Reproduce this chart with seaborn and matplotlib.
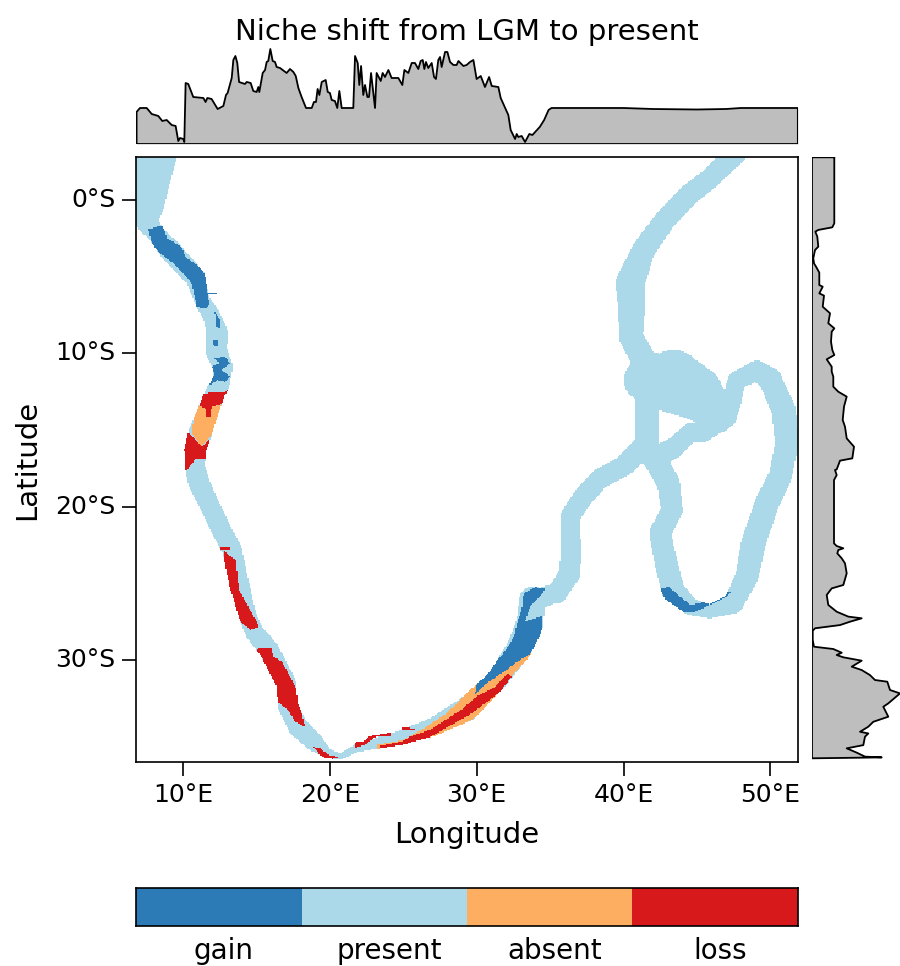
import numpy as np
import seaborn as sns
import matplotlib
matplotlib.use("Agg")
import matplotlib.pyplot as plt
from matplotlib.colors import ListedColormap
from matplotlib.path import Path

# ==============================
# 1. Data
# ==============================
class_names = ["gain", "present", "absent", "loss"]
class_colors = ["#2C7BB6", "#ABD9E9", "#FDAE61", "#D7191C"]

lon_ticks = [10, 20, 30, 40, 50]
lat_ticks = [0, -10, -20, -30]

# top margin: share of cells per longitude
top_lon = [6.84, 6.84, 7.07, 7.53, 7.87, 8.32, 8.59, 8.89, 9.23, 9.50, 9.68, 9.80, 10.02, 10.09, 10.18, 10.36, 10.70,
           11.39, 11.54, 11.66, 11.95, 12.36, 12.75, 12.93, 13.04, 13.32, 13.43, 13.57, 13.70, 13.82, 14.22, 14.34,
           14.61, 14.79, 15.02, 15.13, 15.20, 15.43, 15.59, 15.70, 15.81, 15.95, 16.11, 16.27, 16.38, 16.61, 17.06,
           17.29, 17.52, 17.68, 17.86, 18.08, 18.38, 18.77, 18.92, 19.06, 19.17, 19.29, 19.45, 19.72, 19.86, 20.01,
           20.13, 20.35, 20.51, 20.65, 20.81, 21.60, 21.72, 21.90, 22.01, 22.13, 22.28, 22.40, 22.56, 22.67, 22.81,
           23.08, 23.19, 23.47, 23.60, 23.76, 23.99, 24.21, 24.67, 24.94, 25.08, 25.35, 25.58, 25.80, 26.03, 26.19,
           26.33, 26.44, 26.55, 26.71, 26.94, 27.10, 27.23, 27.39, 27.51, 27.62, 27.85, 28.01, 28.19, 28.42, 28.64,
           28.76, 29.10, 29.32, 29.55, 29.78, 30.00, 30.28, 30.57, 30.85, 31.03, 31.48, 31.64, 32.16, 32.32, 32.62,
           32.73, 32.84, 33.07, 33.30, 33.59, 33.80, 34.30, 34.60, 34.90, 35.10, 40.0, 42.0, 45.0, 47.0, 48.0, 51.88,
           51.88, 6.84]
top_val = [0, 32, 36, 36, 30, 28, 23, 24, 19, 18, 3, 6, 5, 2, 61, 60, 47,
           46, 42, 46, 45, 35, 38, 49, 51, 66, 84, 88, 81, 62, 60, 62,
           61, 53, 52, 57, 52, 71, 74, 82, 83, 95, 83, 82, 77, 76, 71,
           75, 72, 68, 56, 47, 36, 36, 42, 42, 55, 49, 62, 64, 52, 51,
           44, 43, 36, 53, 36, 36, 88, 81, 59, 78, 49, 59, 47, 47, 71,
           36, 71, 63, 71, 67, 74, 66, 66, 59, 74, 71, 81, 81, 75, 83,
           84, 75, 82, 76, 81, 67, 65, 84, 87, 77, 92, 92, 82, 79, 79,
           83, 78, 79, 82, 84, 65, 68, 57, 67, 58, 57, 46, 29, 14, 5,
           10, 7, 8, 2, 10, 9, 17, 24, 34, 36, 36, 35, 34.5, 35, 36, 36,
           0, 0]

# right margin: share of cells per latitude
right_lat = [2.78, -1.52, -1.78, -1.95, -2.06, -2.39, -3.04, -3.26, -3.80, -4.13, -4.34, -4.73, -5.54, -5.65, -6.08,
             -6.23, -6.95, -7.38, -8.03, -8.36, -8.58, -9.23, -9.77, -10.10, -10.38, -10.86, -11.18, -11.51, -12.16,
             -12.49, -12.81, -13.46, -14.33, -14.77, -15.53, -16.07, -16.83, -16.98, -17.55, -17.59, -17.92, -18.24,
             -22.37, -22.54, -22.69, -22.80, -23.02, -23.34, -23.67, -24.32, -25.08, -25.30, -25.73, -26.38, -26.82,
             -27.14, -27.25, -27.47, -27.69, -27.90, -28.06, -28.66, -29.10, -29.25, -29.49, -29.64, -29.79, -30.01,
             -30.40, -30.62, -30.95, -31.27, -31.38, -31.92, -32.14, -32.79, -33.01, -33.66, -33.99, -34.31, -34.64,
             -34.75, -34.96, -35.51, -35.72, -36.00, -36.26, -36.31, -36.37, 2.78, 2.78]
right_val = [22.3, 22.3, 20.3, 6.3, 3.3, 5.3, 6.3, 3, 1.3, 2, 4, 7.3, 7.3, 10.7, 7.3,
             12, 10.7, 18, 16.3, 22.3, 19.7, 19, 20.3, 22.3, 14.7, 19.7, 19.7, 21.3, 21.3,
             26.3, 34.7, 32, 30.7, 33, 34.7, 42, 40.3, 28, 24.7, 23, 24.7, 22,
             22, 24.7, 31.3, 26.3, 25.3, 29.7, 33, 34.7, 31.3, 19.7, 14.7, 16.3, 24.7,
             36.3, 49.7, 38, 28, 3, 0.7, 0.7, 2, 21.3, 29.7, 24.7, 31.3, 49.7,
             39.7, 49.7, 58, 63, 75.3, 78, 88, 76.3, 71.3, 76.3, 61.3, 56.3, 48,
             56.3, 53, 51.3, 34.7, 44.7, 53, 69.7, 0, 0, 22.3]

# occupied strips: centre line and half width, in degrees
coast_lon = [8.16, 7.89, 7.75, 7.55, 8.23, 9.11, 10.82, 11.29, 11.98, 12.32, 12.25, 12.72, 12.59, 12.18, 11.57, 11.16,
             10.82, 10.82, 11.09, 11.63, 12.72, 13.34, 13.81, 14.43, 14.90, 15.86, 17.02, 17.15, 17.83, 18.99, 19.81,
             20.69, 21.85, 24.78, 27.03, 29.35, 31.39, 32.96, 33.64, 33.77, 34.80]
coast_lat = [2.80, 0.65, -0.33, -1.43, -2.28, -3.26, -5.02, -6.51, -7.62, -8.66, -9.77, -10.88, -11.92, -12.57, -14.14,
             -15.18, -16.29, -17.39, -18.44, -19.54, -21.69, -22.80, -24.95, -27.17, -28.21, -29.32, -31.47, -33.03,
             -34.33, -35.37, -36.03, -36.29, -35.70, -35.05, -34.33, -33.16, -31.27, -29.12, -27.56, -26.06, -25.86]
coast_hw = [1.40, 1.07, 0.97, 0.73, 0.60, 0.73, 0.67, 0.53, 0.60, 0.73, 0.73, 0.67, 0.60, 0.67, 0.73, 0.80,
            0.73, 0.67, 0.73, 0.67, 0.67, 0.67, 0.67, 0.60, 0.63, 0.67, 0.67, 0.67, 0.67, 0.60, 0.33,
            0.20, 0.27, 0.47, 0.60, 0.80, 0.70, 0.87, 0.93, 0.87, 0.60]

north_lon = [48.17, 47.38, 45.90, 44.31, 42.83, 41.36, 40.45, 40.56, 40.50, 41.25, 41.59, 41.59]
north_lat = [3.47, 2.78, 1.41, 0.22, -1.30, -3.26, -5.43, -7.17, -8.90, -10.21, -11.94, -15.64]
north_hw = [0.71, 0.71, 0.67, 0.71, 0.71, 0.78, 1.00, 0.89, 0.82, 0.84, 0.78, 0.78]

west_lon = [41.59, 40.00, 38.41, 37.27, 36.36, 36.41, 36.36, 35.46, 34.32]
west_lat = [-15.85, -17.37, -18.13, -19.33, -20.63, -22.80, -24.32, -25.62, -25.84]
west_hw = [0.78, 0.67, 0.67, 0.67, 0.67, 0.71, 0.71, 0.67, 0.56]

loop_lon = [42.04, 43.06, 43.29, 42.49, 42.95, 43.36, 44.54, 45.90, 47.49, 48.40, 48.85, 49.76, 50.67, 51.12, 50.90,
            50.01, 49.08, 47.72, 47.38, 47.04, 45.45, 44.54, 43.40, 42.04]
loop_lat = [-16.72, -18.46, -20.20, -21.72, -23.89, -25.41, -26.49, -26.82, -26.28, -24.54, -22.37, -19.76, -18.02,
            -15.85, -13.68, -11.73, -11.12, -11.73, -13.03, -14.12, -15.09, -15.16, -16.18, -16.83]
loop_hw = [0.78, 0.78, 0.73, 0.73, 0.78, 0.78, 0.56, 0.44, 0.67, 0.78, 0.84, 0.82, 0.78, 0.80, 0.82,
           0.78, 0.67, 0.60, 0.67, 0.67, 0.67, 0.62, 0.67, 0.78]

lobe_lon = [41.36, 42.04, 43.40, 44.99, 46.35]
lobe_lat = [-11.73, -11.51, -11.84, -12.60, -13.90]
lobe_hw = [1.33, 1.56, 2.07, 1.78, 1.29]

# patches of the other classes, (lon, lat)
gain_north = [(7.64, -1.91), (8.66, -1.63), (8.89, -2.50), (9.91, -3.04), (10.14, -3.69), (11.27, -4.45), (11.61, -5.10),
              (11.66, -6.08), (11.84, -6.84), (11.50, -7.06), (10.93, -6.95), (10.59, -5.43), (10.25, -5.00),
              (9.34, -4.13), (8.43, -3.48), (7.87, -2.82)]
gain_a = [(12.07, -7.17), (12.52, -7.82), (12.52, -8.36), (12.18, -8.25), (12.25, -7.71)]
gain_b = [(12.02, -9.12), (12.41, -9.12), (12.34, -9.55), (12.02, -9.45)]
gain_c = [(12.07, -10.30), (12.86, -10.21), (13.20, -10.64), (12.63, -11.08), (13.20, -11.51), (12.86, -11.84),
          (12.34, -11.73), (11.84, -12.05), (11.73, -11.84), (12.18, -11.40), (11.95, -10.86), (12.52, -10.64)]
gain_cape = [(33.19, -25.62), (33.98, -25.23), (34.66, -25.29), (34.43, -25.73), (33.64, -26.49), (33.30, -27.47),
             (34.50, -27.10), (34.50, -28.00), (33.98, -29.09), (33.64, -29.57), (32.62, -30.18), (32.05, -30.61),
             (30.69, -31.48), (29.89, -32.24), (30.00, -31.59), (30.69, -30.72), (31.71, -29.64), (32.28, -28.88),
             (32.62, -28.23), (32.73, -27.57), (33.07, -26.71)]
gain_loop = [(42.45, -25.36), (43.06, -25.19), (43.86, -25.84), (44.54, -26.38), (45.22, -26.28), (46.13, -25.73),
             (47.31, -25.52), (47.04, -25.84), (45.90, -26.38), (44.76, -26.88), (43.63, -26.82), (42.95, -26.17)]
absent_north = [(11.05, -13.42), (11.95, -13.46), (12.63, -13.36), (12.52, -14.01), (12.25, -14.88), (11.84, -15.42),
                (11.27, -16.07), (10.59, -15.20), (10.70, -14.44), (10.82, -13.79)]
absent_south = [(25.01, -35.17), (26.26, -34.52), (27.96, -33.44), (28.76, -32.68), (30.00, -31.48), (31.14, -30.18),
                (31.82, -29.57), (33.87, -29.57), (32.62, -30.72), (32.05, -31.37), (31.14, -32.57), (30.00, -33.65),
                (28.64, -34.42), (27.51, -35.00), (25.69, -35.57), (24.78, -35.78), (23.19, -35.78), (23.19, -35.50)]
loss_a = [(11.05, -12.92), (11.27, -12.60), (13.20, -12.49), (12.52, -13.36), (11.95, -13.46), (11.84, -14.11),
          (11.57, -14.11), (11.50, -13.57), (11.05, -13.36)]
loss_b = [(13.43, -11.08), (13.66, -10.97), (13.54, -11.94), (13.27, -11.94)]
loss_c = [(13.20, -12.20), (13.54, -12.05), (13.20, -12.55), (12.86, -12.49)]
loss_d = [(10.36, -15.09), (11.27, -16.07), (11.84, -15.53), (11.50, -16.90), (10.82, -16.90), (10.18, -17.70),
          (10.02, -15.53)]
loss_e = [(12.79, -22.80), (13.09, -23.12), (13.61, -23.45), (13.70, -24.53), (13.84, -25.45), (15.20, -27.79),
          (14.57, -28.01), (13.54, -27.14), (13.25, -26.16), (13.16, -25.19), (12.79, -24.21)]
loss_f = [(14.97, -29.25), (16.00, -29.20), (16.16, -29.75), (16.72, -30.07), (17.29, -31.05), (17.86, -32.09),
          (17.88, -32.57), (18.31, -34.31), (17.63, -33.98), (17.18, -33.26), (16.27, -32.57), (16.43, -32.03),
          (15.70, -30.83), (15.47, -29.96)]
loss_g = [(18.88, -35.65), (19.33, -35.72), (19.90, -36.15), (20.70, -36.30), (20.13, -36.43), (19.45, -36.37),
          (19.22, -36.04)]
loss_south = [(32.16, -30.83), (31.26, -31.70), (30.00, -32.35), (29.10, -33.11), (28.08, -33.76), (26.83, -34.52),
              (25.47, -34.96), (24.90, -35.28), (23.42, -35.57), (23.42, -35.74), (24.78, -35.70), (25.92, -35.35),
              (27.06, -34.87), (28.42, -34.13), (29.67, -33.44), (30.69, -32.72), (31.60, -32.03), (32.39, -31.05)]
# bits that stick out of the strips
gain_spur = [(11.66, -6.02), (12.29, -6.02), (12.29, -6.15), (11.66, -6.15)]
loss_cross = [(12.57, -22.60), (13.20, -22.60), (13.20, -22.75), (12.57, -22.75)]
loss_h = [(21.67, -35.35), (22.40, -35.22), (22.63, -34.96), (24.10, -34.70), (24.10, -34.91), (23.08, -35.00),
          (22.40, -35.50), (21.72, -35.72)]
loss_i = [(24.90, -34.35), (25.81, -34.44), (25.81, -34.57), (24.90, -34.52)]

# ==============================
# 2. Raster of the classes
# ==============================
lon_min, lon_max = 6.80, 51.89
lat_max, lat_min = 2.80, -36.61
cells = 12  # five minute cells

n_lon = int(round((lon_max - lon_min) * cells))
n_lat = int(round((lat_max - lat_min) * cells))
cell_lon = lon_min + (np.arange(n_lon) + 0.5) / cells
cell_lat = lat_max - (np.arange(n_lat) + 0.5) / cells
mesh_lon, mesh_lat = np.meshgrid(cell_lon, cell_lat)

grid = np.full(mesh_lon.shape, np.nan)


def paint_strip(lons, lats, widths):
    for i in range(len(lons) - 1):
        dx, dy = lons[i + 1] - lons[i], lats[i + 1] - lats[i]
        t = ((mesh_lon - lons[i]) * dx + (mesh_lat - lats[i]) * dy) / (dx * dx + dy * dy)
        t = np.clip(t, 0, 1)
        dist = np.hypot(mesh_lon - lons[i] - t * dx, mesh_lat - lats[i] - t * dy)
        grid[dist <= widths[i] + t * (widths[i + 1] - widths[i])] = 1


def paint_patch(patch, value, inside_only=True):
    hit = Path(patch).contains_points(np.column_stack([mesh_lon.ravel(), mesh_lat.ravel()]))
    hit = hit.reshape(mesh_lon.shape)
    if inside_only:
        hit = hit & ~np.isnan(grid)
    grid[hit] = value


paint_strip(coast_lon, coast_lat, coast_hw)
paint_strip(north_lon, north_lat, north_hw)
paint_strip(west_lon, west_lat, west_hw)
paint_strip(loop_lon, loop_lat, loop_hw)
paint_strip(lobe_lon, lobe_lat, lobe_hw)

for patch in [absent_north, absent_south]:
    paint_patch(patch, 2)
for patch in [loss_a, loss_b, loss_c, loss_d, loss_e, loss_f, loss_g, loss_south]:
    paint_patch(patch, 3)
for patch in [gain_north, gain_a, gain_b, gain_c, gain_cape, gain_loop]:
    paint_patch(patch, 0)
paint_patch(gain_spur, 0, inside_only=False)
for patch in [loss_cross, loss_h, loss_i]:
    paint_patch(patch, 3, inside_only=False)

# ==============================
# 3. Figure
# ==============================
sns.set_theme(style="white")
plt.rcParams["font.family"] = ["DejaVu Sans"]

W, H = 900, 966
fig = plt.figure(figsize=(W / 100, H / 100), dpi=100)


def add_axes(left, top, right, bottom):
    return fig.add_axes([left / W, 1 - bottom / H, (right - left) / W, (bottom - top) / H])


ax = add_axes(136, 157, 798, 762)
ax_top = add_axes(136, 44, 798, 144)
ax_right = add_axes(812, 157, 900, 762)
ax_key = add_axes(136, 888, 798, 926)

cmap = ListedColormap(class_colors)

# main map
sns.heatmap(grid, cmap=cmap, vmin=-0.5, vmax=3.5, cbar=False, ax=ax)
for side in ax.spines.values():
    side.set_visible(True)
    side.set_color("black")
    side.set_linewidth(1.2)
ax.set_xticks([(v - lon_min) * cells for v in lon_ticks])
ax.set_xticklabels([f"{v}\u00b0E" for v in lon_ticks], rotation=0, fontsize=18)
ax.set_yticks([(lat_max - v) * cells for v in lat_ticks])
ax.set_yticklabels([f"{-v}\u00b0S" for v in lat_ticks], rotation=0, fontsize=18)
ax.tick_params(axis="both", length=10, width=1.2, color="black", labelcolor="black", pad=5, bottom=True, left=True)
ax.set_xlabel("Longitude", fontsize=21, color="black", labelpad=10)
ax.set_ylabel("Latitude", fontsize=21, color="black", labelpad=10)

# top margin
ax_top.fill_between(top_lon, top_val, 0, color="#BEBEBE", linewidth=0)
sns.lineplot(x=top_lon, y=top_val, sort=False, estimator=None, color="black", linewidth=1.3, ax=ax_top)
ax_top.set_xlim(lon_min, lon_max)
ax_top.set_ylim(0, 100)
ax_top.axis("off")
ax_top.set_title("Niche shift from LGM to present", fontsize=21, color="black", pad=3)

# right margin
ax_right.fill_betweenx(right_lat, right_val, 0, color="#BEBEBE", linewidth=0)
sns.lineplot(x=right_val, y=right_lat, sort=False, estimator=None, color="black", linewidth=1.3, ax=ax_right)
ax_right.set_xlim(0, 88)
ax_right.set_ylim(lat_min, lat_max)
ax_right.axis("off")

# colour key
sns.heatmap(np.arange(4).reshape(1, 4), cmap=cmap, vmin=-0.5, vmax=3.5, cbar=False, ax=ax_key)
for side in ax_key.spines.values():
    side.set_visible(True)
    side.set_color("black")
    side.set_linewidth(1.2)
ax_key.set_yticks([])
ax_key.set_xticks(np.arange(4) + 0.53)
ax_key.set_xticklabels(class_names, rotation=0, fontsize=20, color="black")
ax_key.tick_params(axis="x", length=0, pad=8)

fig.savefig("out.png", dpi=100)
